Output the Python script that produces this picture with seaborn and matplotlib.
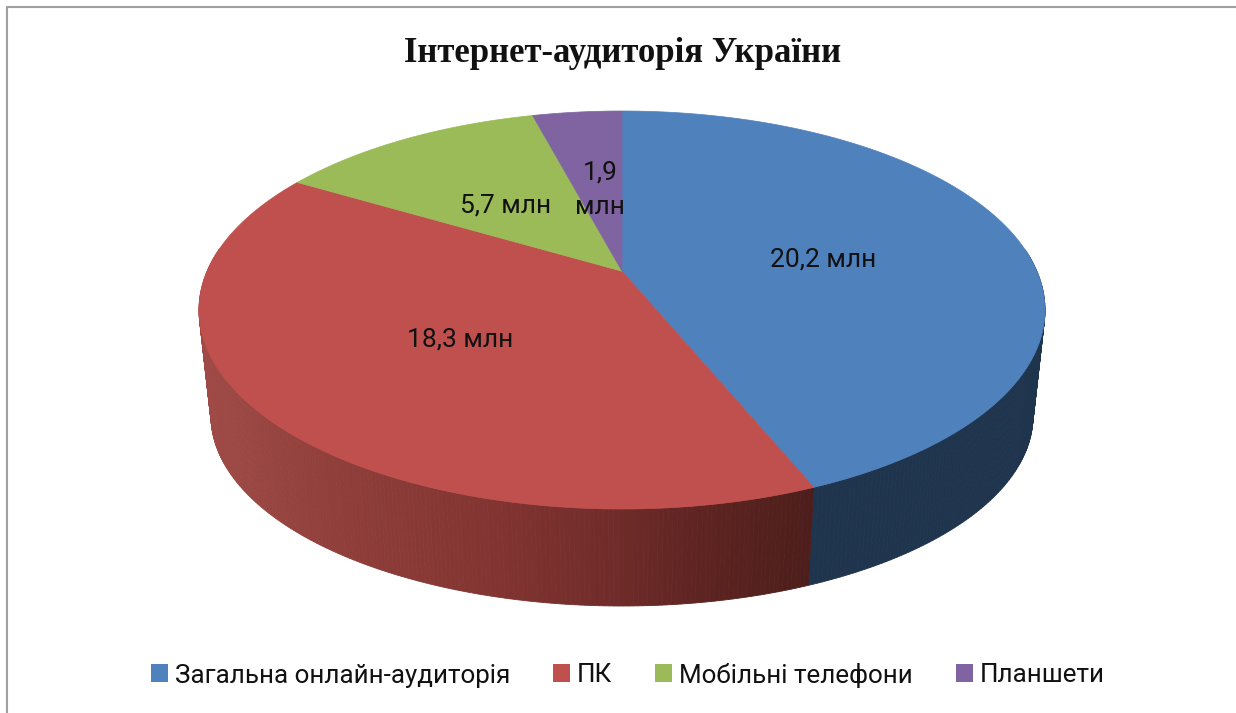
import numpy as np
import seaborn as sns
import matplotlib
matplotlib.use("Agg")
import matplotlib.pyplot as plt
from matplotlib.patches import Patch
from matplotlib.colors import to_rgb

categories = ["Загальна онлайн-аудиторія", "ПК", "Мобільні телефони", "Планшети"]
values = [20.2, 18.3, 5.7, 1.9]
value_labels = ["20,2 млн", "18,3 млн", "5,7 млн", "1,9\nмлн"]
title = "Інтернет-аудиторія України"
colors = ["#4F81BD", "#C0504D", "#9BBB59", "#8064A2"]

sns.set_theme(style="white")
plt.rcParams["font.family"] = ["Roboto", "DejaVu Sans"]

W, H = 1236, 713
fig = plt.figure(figsize=(W / 100, H / 100), dpi=100, facecolor="white")
ax = fig.add_axes([0, 0, 1, 1])
ax.set_xlim(0, W)
ax.set_ylim(H, 0)
ax.axis("off")

# projected disc geometry (pixels)
CX, CY, RX, RY = 622, 310, 423, 199
CY2, RX2, RY2 = 416, 411, 190
D = 0.195


def project(theta):
    """Perspective image of a unit-circle point; theta clockwise from the top."""
    u, v = np.sin(theta), np.cos(theta)
    den = 1 + D * v
    return u * np.sqrt(1 - D ** 2) / den, (v + D) / den


fractions = np.array(values) / np.sum(values)
edges = np.concatenate([[0], np.cumsum(fractions)]) * 2 * np.pi
apex = (CX, CY - RY * D)

wall_stops_x = [205, 350, 500, 600, 700, 810]
wall_stops_c = ["#A04B47", "#8F3E3A", "#813431", "#722D2B", "#5E2421", "#4C1E1B"]
wall_rgb = np.array([to_rgb(c) for c in wall_stops_c])


def wall_color(i, x):
    if i == 0:
        return "#1F344D"
    if i == 1:
        return tuple(np.interp(x, wall_stops_x, wall_rgb[:, k]) for k in range(3))
    return colors[i]


# side walls
for i in range(len(values)):
    ts = np.linspace(edges[i], edges[i + 1], 260)
    u, v = project(ts)
    xt, yt = CX + RX * u, CY - RY * v
    xb, yb = CX + RX2 * u, CY2 - RY2 * v
    for k in range(len(ts) - 1):
        if v[k] > 0.3 and v[k + 1] > 0.3:
            continue
        c = wall_color(i, 0.5 * (xb[k] + xb[k + 1]))
        ax.fill([xt[k], xt[k + 1], xb[k + 1], xb[k]],
                [yt[k], yt[k + 1], yb[k + 1], yb[k]],
                facecolor=c, edgecolor=c, lw=0.6, zorder=2)

# top faces
for i in range(len(values)):
    ts = np.linspace(edges[i], edges[i + 1], 300)
    u, v = project(ts)
    xs = np.concatenate([[apex[0]], CX + RX * u])
    ys = np.concatenate([[apex[1]], CY - RY * v])
    ax.fill(xs, ys, facecolor=colors[i], edgecolor=colors[i], lw=0.5, zorder=3)

# value labels
label_pos = [(823, 259), (460, 340), (506, 206), (600, 190)]
for (lx, ly), lab in zip(label_pos, value_labels):
    ax.text(lx, ly, lab, ha="center", va="center", fontsize=19, color="#111111",
            linespacing=1.55, zorder=5)

ax.text(623, 54, title, ha="center", va="center", fontsize=25, fontweight="bold",
        family=["Liberation Serif", "DejaVu Serif"], color="#111111")

handles = [Patch(facecolor=c, edgecolor="none", label=n) for c, n in zip(colors, categories)]
fs = 18.7
fpx = fs * 100 / 72
ax.legend(handles=handles, ncol=4, loc="center", bbox_to_anchor=(628 / W, 1 - 675 / H),
          bbox_transform=fig.transFigure, frameon=False, fontsize=fs,
          handlelength=17 / fpx, handleheight=0.68, handletextpad=7 / fpx,
          columnspacing=43 / fpx, labelcolor="#111111", borderpad=0)

# frame of the chart area
ax.plot([7, 7, W], [H, 7, 7], color="#A0A0A0", lw=1.5, zorder=1)

fig.savefig("out.png", dpi=100, facecolor="white")
